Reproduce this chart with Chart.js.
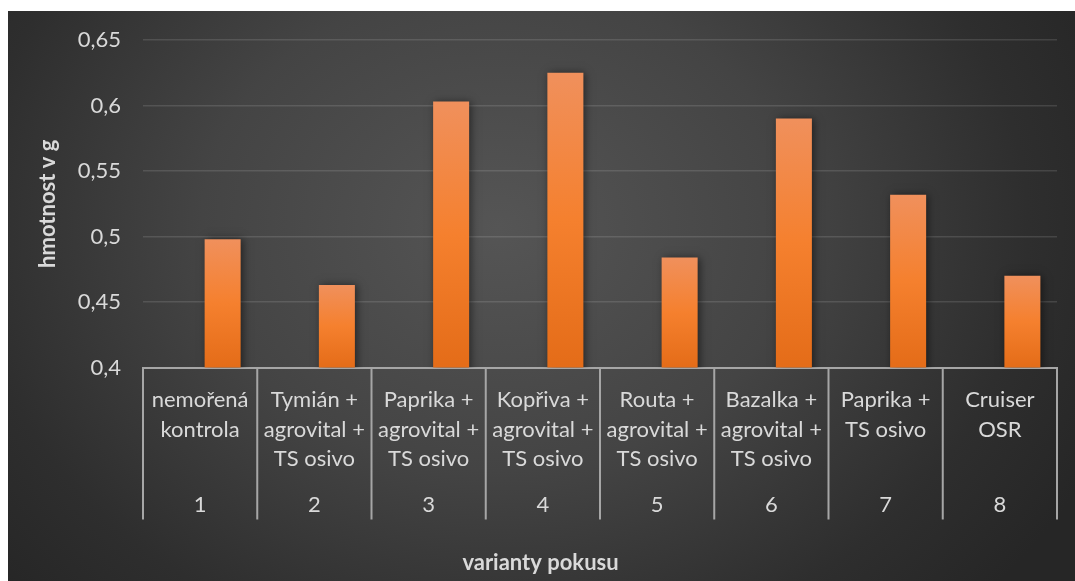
<!DOCTYPE html>
<html lang="cs">
<head>
    <meta charset="UTF-8">
    <title>hmotnost v g</title>
    <script src="https://cdn.jsdelivr.net/npm/chart.js"></script>
    <style>
        html, body {
            margin: 0;
            padding: 0;
            background: #fff;
        }
        body {
            width: 1075px;
            height: 581px;
            overflow: hidden;
            position: relative;
        }
        #chart-box {
            position: absolute;
            left: 8px;
            top: 11px;
            width: 1067px;
            height: 570px;
            background: radial-gradient(ellipse 62% 95% at 46% 38%, #555555 0%, #444444 45%, #2e2e2e 80%, #262626 100%);
        }
    </style>
</head>
<body>
    <div id="chart-box"><canvas id="weightChart" width="1067" height="570"></canvas></div>

    <script>
        const categories = [
            ['nemořená', 'kontrola'],
            ['Tymián +', 'agrovital +', 'TS osivo'],
            ['Paprika +', 'agrovital +', 'TS osivo'],
            ['Kopřiva +', 'agrovital +', 'TS osivo'],
            ['Routa +', 'agrovital +', 'TS osivo'],
            ['Bazalka +', 'agrovital +', 'TS osivo'],
            ['Paprika +', 'TS osivo'],
            ['Cruiser', 'OSR']
        ];
        const variantNumbers = ['1', '2', '3', '4', '5', '6', '7', '8'];
        const weights = [0.498, 0.463, 0.603, 0.625, 0.484, 0.590, 0.532, 0.470];
        const emptySeries = [null, null, null, null, null, null, null, null];
        const yTickValues = [0.4, 0.45, 0.5, 0.55, 0.6, 0.65];
        const yTickLabels = ['0,4', '0,45', '0,5', '0,55', '0,6', '0,65'];

        const textColor = '#d9d9d9';
        const fontFamily = 'Lato, Carlito, "Open Sans", sans-serif';

        // light bar shadow like the office theme
        const barShadow = {
            id: 'barShadow',
            beforeDatasetsDraw(chart) {
                const c = chart.ctx;
                c.save();
                c.shadowColor = 'rgba(0, 0, 0, 0.5)';
                c.shadowBlur = 8;
                c.shadowOffsetX = 2;
                c.shadowOffsetY = 0;
            },
            afterDatasetsDraw(chart) {
                chart.ctx.restore();
            }
        };

        // boxes around the category labels
        const categoryDividers = {
            id: 'categoryDividers',
            afterDraw(chart) {
                const x = chart.scales.x;
                const x2 = chart.scales.x2;
                const c = chart.ctx;
                const step = x.getPixelForValue(1) - x.getPixelForValue(0);
                c.save();
                c.strokeStyle = '#a6a6a6';
                c.lineWidth = 2;
                c.beginPath();
                for (let i = 0; i <= categories.length; i++) {
                    const px = x.getPixelForValue(0) - step / 2 + i * step;
                    c.moveTo(px, x.top);
                    c.lineTo(px, x2.bottom);
                }
                c.stroke();
                c.restore();
            }
        };

        function barGradient(context) {
            const chart = context.chart;
            const area = chart.chartArea;
            if (!area || context.raw == null) return '#f4812f';
            const top = chart.scales.y.getPixelForValue(context.raw);
            const g = chart.ctx.createLinearGradient(0, top, 0, area.bottom);
            g.addColorStop(0, '#f0905c');
            g.addColorStop(0.5, '#f5802e');
            g.addColorStop(1, '#e46c18');
            return g;
        }

        const ctx = document.getElementById('weightChart').getContext('2d');
        const weightChart = new Chart(ctx, {
            type: 'bar',
            data: {
                labels: categories,
                datasets: [{
                    label: '',
                    data: emptySeries,
                    backgroundColor: 'rgba(0,0,0,0)'
                }, {
                    label: 'hmotnost v g',
                    data: weights,
                    backgroundColor: barGradient,
                    borderWidth: 0
                }]
            },
            options: {
                responsive: false,
                devicePixelRatio: 1,
                animation: false,
                categoryPercentage: 0.788,
                barPercentage: 0.8,
                layout: {
                    padding: { left: 16, right: 18, top: 29, bottom: 0 }
                },
                plugins: {
                    legend: { display: false },
                    tooltip: { enabled: false },
                    title: {
                        display: true,
                        position: 'bottom',
                        text: 'varianty pokusu',
                        color: textColor,
                        font: { family: fontFamily, size: 22, weight: 'bold', lineHeight: 1.2 },
                        padding: { top: 30, bottom: 5 }
                    }
                },
                scales: {
                    y: {
                        min: 0.4,
                        max: 0.65,
                        afterBuildTicks: scale => {
                            scale.ticks = yTickValues.map(v => ({ value: v }));
                        },
                        afterFit: scale => {
                            scale.width = 119;
                            scale.paddingTop = 0;
                            scale.paddingBottom = 0;
                        },
                        ticks: {
                            color: textColor,
                            padding: 22,
                            font: { family: fontFamily, size: 22 },
                            callback: (value, index) => yTickLabels[index]
                        },
                        grid: {
                            color: 'rgba(255, 255, 255, 0.12)',
                            lineWidth: 1.5,
                            drawTicks: false
                        },
                        border: { display: false },
                        title: {
                            display: true,
                            text: 'hmotnost v g',
                            color: textColor,
                            font: { family: fontFamily, size: 22, weight: 'bold', lineHeight: 1.2 },
                            padding: { top: 11, bottom: 0 }
                        }
                    },
                    x: {
                        position: 'bottom',
                        weight: 1,
                        afterFit: scale => { scale.height = 106; },
                        ticks: {
                            color: textColor,
                            padding: 10,
                            maxRotation: 0,
                            autoSkip: false,
                            font: { family: fontFamily, size: 22, lineHeight: 1.34 }
                        },
                        grid: { display: false },
                        border: { display: true, color: '#a6a6a6', width: 2 }
                    },
                    x2: {
                        type: 'category',
                        labels: variantNumbers,
                        position: 'bottom',
                        weight: 2,
                        offset: true,
                        afterFit: scale => { scale.height = 46; },
                        ticks: {
                            color: textColor,
                            padding: 9,
                            maxRotation: 0,
                            font: { family: fontFamily, size: 22, lineHeight: 1.34 }
                        },
                        grid: { display: false },
                        border: { display: false }
                    }
                }
            },
            plugins: [barShadow, categoryDividers]
        });
    </script>
</body>
</html>
